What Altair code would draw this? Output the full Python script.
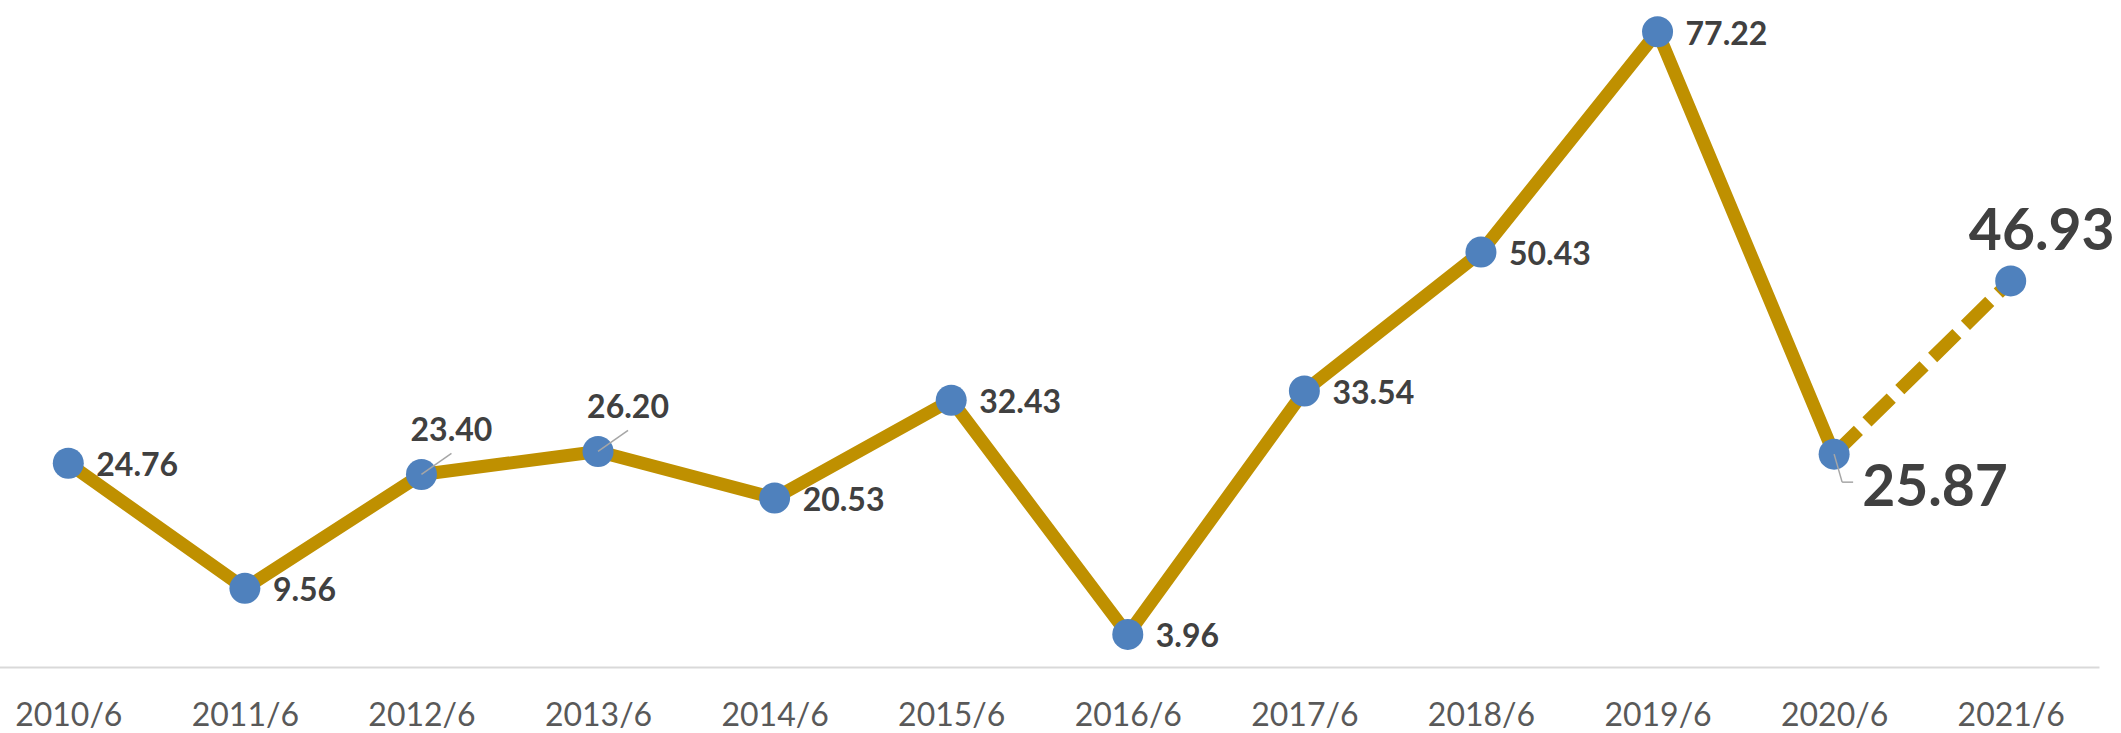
import altair as alt
import pandas as pd

dates = ["2010/6", "2011/6", "2012/6", "2013/6", "2014/6", "2015/6",
         "2016/6", "2017/6", "2018/6", "2019/6", "2020/6", "2021/6"]
values = [24.76, 9.56, 23.40, 26.20, 20.53, 32.43, 3.96, 33.54, 50.43, 77.22, 25.87, 46.93]

right_labels = ["2010/6", "2011/6", "2014/6", "2015/6", "2016/6", "2017/6", "2018/6", "2019/6"]
above_labels = ["2012/6", "2013/6"]
big_below = ["2020/6"]
big_above = ["2021/6"]
dashed_part = ["2020/6", "2021/6"]

df = pd.DataFrame({"date": dates, "value": values})

LINE = "#BF9000"
DOT = "#4F81BD"
TXT = "#404040"
LEAD = "#A6A6A6"
FONT = "Lato"

x = alt.X("date:O", sort=dates, title=None,
          scale=alt.Scale(type="point", range=[-20, 2099], padding=0.5),
          axis=alt.Axis(domain=True, domainColor="#D9D9D9", domainWidth=2, ticks=False,
                        grid=False, labelFont=FONT, labelFontSize=32, labelColor="#595959",
                        labelAngle=0, labelPadding=58, labelBaseline="alphabetic",
                        labelOverlap=False))
y = alt.Y("value:Q", title=None, axis=None,
          scale=alt.Scale(domain=[0, 81.07], nice=False, zero=True))

base = alt.Chart(df).encode(x=x, y=y)

solid = base.mark_line(color=LINE, strokeWidth=13, strokeJoin="round").transform_filter(
    alt.datum.date != "2021/6")
dashed = base.mark_line(color=LINE, strokeWidth=13, strokeDash=[34, 12]).transform_filter(
    alt.FieldOneOfPredicate(field="date", oneOf=dashed_part))

points = base.mark_point(filled=True, size=960, color=DOT, opacity=1, strokeWidth=0)

seg_enc = dict(x2=alt.X2("date"), y2=alt.Y2("value"))
lead_above = base.mark_rule(color=LEAD, strokeWidth=1.5, x2Offset=30, y2Offset=-21).encode(
    **seg_enc).transform_filter(alt.FieldOneOfPredicate(field="date", oneOf=above_labels))
lead_b1 = base.mark_rule(color=LEAD, strokeWidth=1.5, x2Offset=8, y2Offset=28).encode(
    **seg_enc).transform_filter(alt.FieldOneOfPredicate(field="date", oneOf=big_below))
lead_b2 = base.mark_rule(color=LEAD, strokeWidth=1.5, xOffset=8, yOffset=28,
                         x2Offset=19, y2Offset=28).encode(
    **seg_enc).transform_filter(alt.FieldOneOfPredicate(field="date", oneOf=big_below))

txt = alt.Text("value:Q", format=".2f")
t_right = base.mark_text(font=FONT, fontWeight="bold", fontSize=32, color=TXT,
                         align="left", baseline="middle", dx=28, dy=3).encode(
    text=txt).transform_filter(alt.FieldOneOfPredicate(field="date", oneOf=right_labels))
t_above = base.mark_text(font=FONT, fontWeight="bold", fontSize=32, color=TXT,
                         align="center", baseline="alphabetic", dx=30, dy=-33).encode(
    text=txt).transform_filter(alt.FieldOneOfPredicate(field="date", oneOf=above_labels))
t_big_below = base.mark_text(font=FONT, fontWeight="bold", fontSize=57, color=TXT,
                             align="left", baseline="alphabetic", dx=28, dy=52).encode(
    text=txt).transform_filter(alt.FieldOneOfPredicate(field="date", oneOf=big_below))
t_big_above = base.mark_text(font=FONT, fontWeight="bold", fontSize=57, color=TXT,
                             align="center", baseline="alphabetic", dx=31, dy=-31).encode(
    text=txt).transform_filter(alt.FieldOneOfPredicate(field="date", oneOf=big_above))

chart = alt.layer(solid, dashed, points, lead_above, lead_b1, lead_b2,
                  t_right, t_above, t_big_below, t_big_above).properties(
    width=2121, height=667,
    autosize=alt.AutoSizeParams(type="none"),
    padding={"left": 0, "top": 0, "right": 0, "bottom": 66},
    background="white",
).configure_view(stroke=None)

chart.save("out.html", embed_options={"renderer": "svg", "actions": False})
